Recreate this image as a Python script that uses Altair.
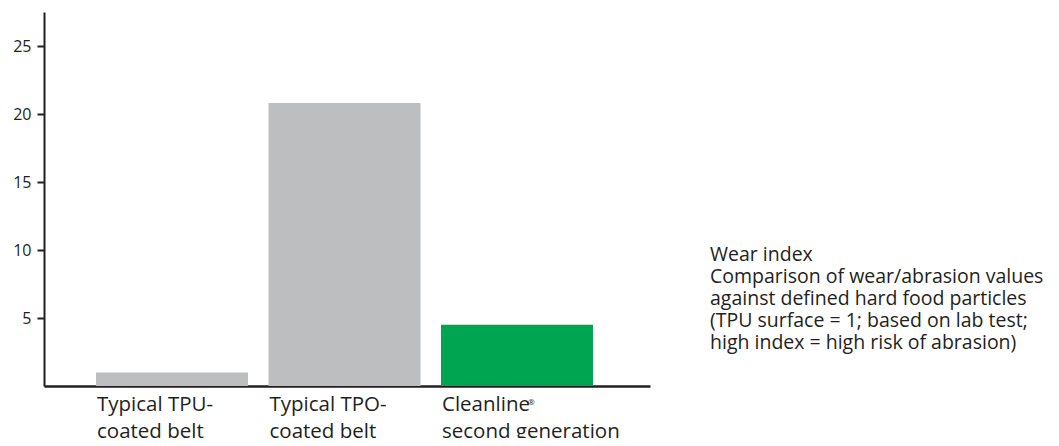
import altair as alt
import pandas as pd

categories = ["Typical TPU-|coated belt", "Typical TPO-|coated belt", "Cleanline|second generation"]
values = [1.0, 20.8, 4.5]
colors = ["#bcbec0", "#bcbec0", "#00a551"]
y_ticks = [5, 10, 15, 20, 25]
note_lines = [
    "Wear index",
    "Comparison of wear/abrasion values",
    "against defined hard food particles",
    "(TPU surface = 1; based on lab test;",
    "high index = high risk of abrasion)",
]

W, H = 606, 374
FONT = "Open Sans"
INK = "#231f20"

df = pd.DataFrame({"cat": categories, "val": values, "col": colors})

xscale = alt.Scale(domain=categories, paddingInner=0.119, paddingOuter=0.316, align=0.477)

bars = alt.Chart(df).mark_bar().encode(
    x=alt.X("cat:N", sort=None, scale=xscale,
            axis=alt.Axis(title=None, labelAlign="left", labelBaseline="top",
                          labelAngle=0, ticks=False, labelPadding=8, labelFontSize=20.5,
                          labelOffset=-75, labelLineHeight=27.5,
                          labelExpr="split(datum.label, '|')",
                          labelFont=FONT, labelColor=INK, domainColor=INK, domainWidth=2.5,
                          labelOverlap=False, labelLimit=300)),
    y=alt.Y("val:Q", scale=alt.Scale(domain=[0, 27.5], nice=False, zero=True),
            axis=alt.Axis(title=None, values=y_ticks, tickSize=7, tickWidth=2, tickColor=INK,
                          domainColor=INK, domainWidth=2, labelFontSize=16, labelFont=FONT,
                          labelColor=INK, labelPadding=6, grid=False)),
    color=alt.Color("col:N", scale=None),
)

reg = alt.Chart(alt.Data(values=[{"cat": categories[2]}])).mark_text(
    text="®", fontSize=8, font=FONT, color=INK, align="left", baseline="top", dx=87
).encode(
    x=alt.X("cat:N", scale=xscale, bandPosition=0),
    y=alt.value(H + 13),
)

note = alt.Chart(alt.Data(values=[{}])).mark_text(
    text=note_lines, align="left", baseline="alphabetic", fontSize=19.5, lineHeight=22,
    font=FONT, color=INK
).encode(x=alt.value(666), y=alt.value(249))

chart = alt.layer(bars, reg, note).properties(
    width=W, height=H,
    autosize=alt.AutoSizeParams(type="none"),
    padding={"left": 36, "top": 4, "right": 1043 - 36 - W, "bottom": 430 - 4 - H},
).configure_view(stroke=None)

chart.save("out.html", embed_options={"renderer": "svg", "actions": False})
